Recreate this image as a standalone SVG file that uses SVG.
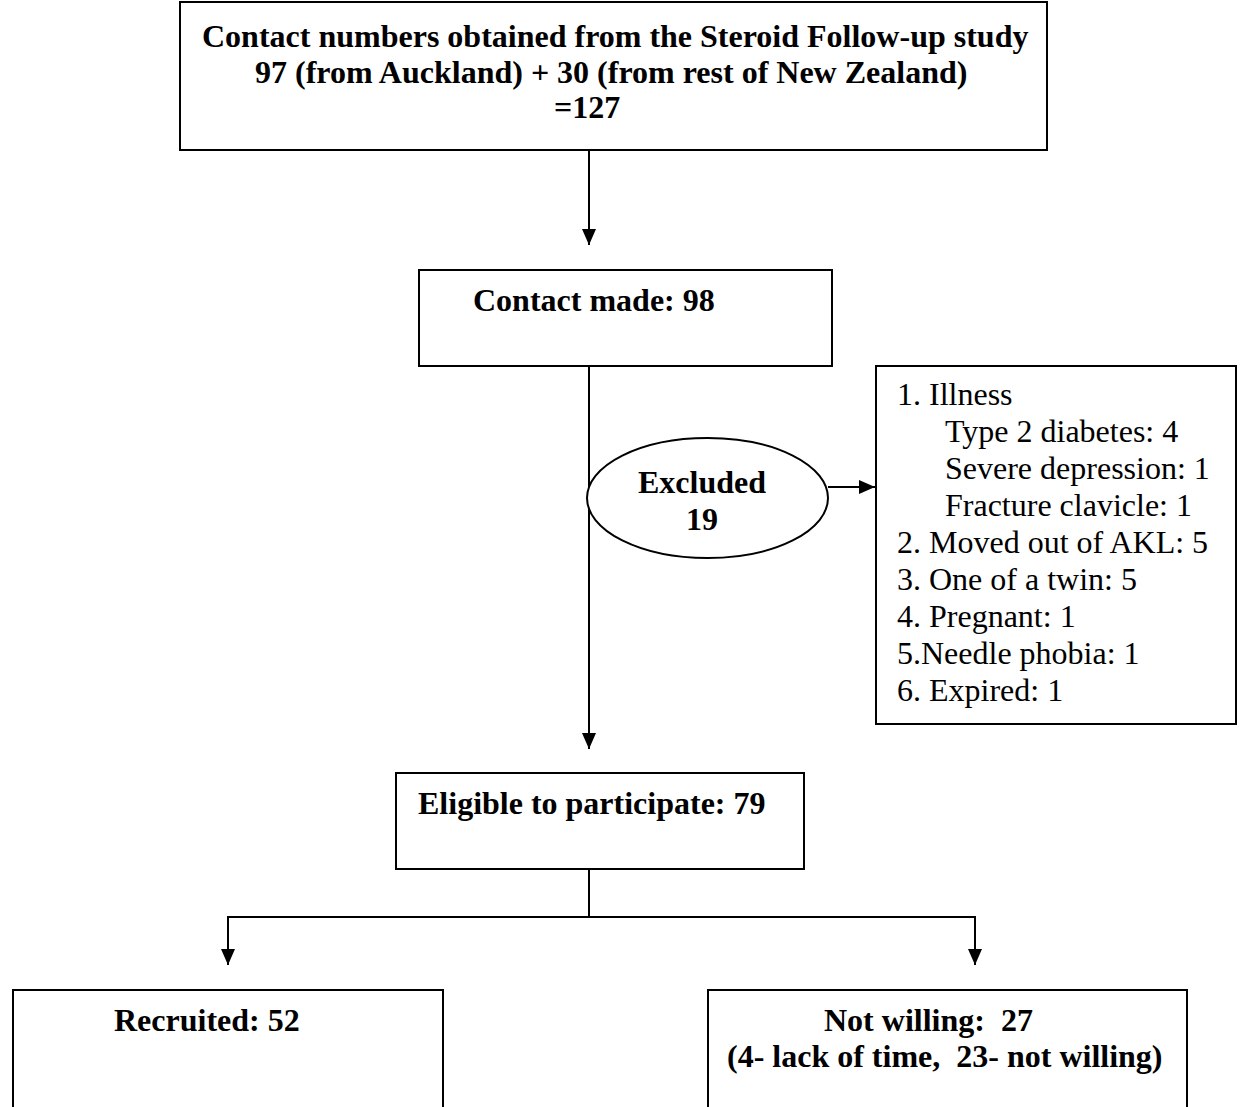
<svg xmlns="http://www.w3.org/2000/svg" width="1243" height="1107" viewBox="0 0 1243 1107">
  <style>
    .box { fill: #ffffff; stroke: #000000; stroke-width: 2; }
    .edge { fill: none; stroke: #000000; stroke-width: 2; }
    .b { font-family: "Liberation Serif", "Times New Roman", serif; font-weight: bold; font-size: 32px; fill: #000000; }
    .r { font-family: "Liberation Serif", "Times New Roman", serif; font-size: 32px; fill: #000000; }
  </style>
  <defs>
    <marker id="arrow" markerUnits="userSpaceOnUse" markerWidth="16" markerHeight="14" refX="16" refY="7" orient="auto">
      <path d="M0,0 L16,7 L0,14 z" fill="#000000"/>
    </marker>
  </defs>
  <rect x="0" y="0" width="1243" height="1107" fill="#ffffff"/>

  <!-- connectors -->
  <g id="connectors">
    <line class="edge" x1="589" y1="150" x2="589" y2="245" marker-end="url(#arrow)"/>
    <line class="edge" x1="589" y1="366" x2="589" y2="749" marker-end="url(#arrow)"/>
    <line class="edge" x1="828" y1="487" x2="875" y2="487" marker-end="url(#arrow)"/>
    <line class="edge" x1="589" y1="869" x2="589" y2="917"/>
    <polyline class="edge" points="589,917 228,917 228,965" marker-end="url(#arrow)"/>
    <polyline class="edge" points="589,917 975,917 975,965" marker-end="url(#arrow)"/>
  </g>

  <!-- source of contacts -->
  <g id="node-contact-numbers">
    <rect class="box" x="180" y="2" width="867" height="148"/>
    <text class="b" x="202" y="47">Contact numbers obtained from the Steroid Follow-up study</text>
    <text class="b" x="255" y="83">97 (from Auckland) + 30 (from rest of New Zealand)</text>
    <text class="b" x="554" y="118">=127</text>
  </g>

  <g id="node-contact-made">
    <rect class="box" x="419" y="270" width="413" height="96"/>
    <text class="b" x="473" y="311">Contact made: 98</text>
  </g>

  <g id="node-excluded">
    <ellipse class="box" cx="707.5" cy="498" rx="120.5" ry="60"/>
    <text class="b" x="702" y="493" text-anchor="middle">Excluded</text>
    <text class="b" x="702" y="530" text-anchor="middle">19</text>
  </g>

  <g id="node-exclusion-reasons">
    <rect class="box" x="876" y="366" width="360" height="358"/>
    <text class="r" x="897" y="405">1. Illness</text>
    <text class="r" x="945" y="442">Type 2 diabetes: 4</text>
    <text class="r" x="945" y="479">Severe depression: 1</text>
    <text class="r" x="945" y="516">Fracture clavicle: 1</text>
    <text class="r" x="897" y="553">2. Moved out of AKL: 5</text>
    <text class="r" x="897" y="590">3. One of a twin: 5</text>
    <text class="r" x="897" y="627">4. Pregnant: 1</text>
    <text class="r" x="897" y="664">5.Needle phobia: 1</text>
    <text class="r" x="897" y="701">6. Expired: 1</text>
  </g>

  <g id="node-eligible">
    <rect class="box" x="396" y="773" width="408" height="96"/>
    <text class="b" x="418" y="814">Eligible to participate: 79</text>
  </g>

  <g id="node-recruited">
    <rect class="box" x="13" y="990" width="430" height="140"/>
    <text class="b" x="114" y="1031">Recruited: 52</text>
  </g>

  <g id="node-not-willing">
    <rect class="box" x="708" y="990" width="479" height="140"/>
    <text class="b" x="824" y="1031" xml:space="preserve">Not willing:  27</text>
    <text class="b" x="727" y="1067" xml:space="preserve">(4- lack of time,  23- not willing)</text>
  </g>
</svg>
